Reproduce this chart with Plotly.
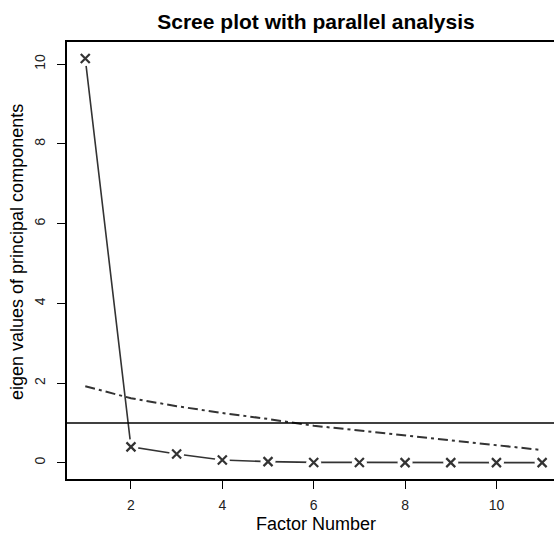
import plotly.graph_objects as go

factors = list(range(1, 12))
eigen_actual = [10.14, 0.40, 0.22, 0.07, 0.03, 0.01, 0.01, 0.005, 0.005, 0.005, 0.005]
eigen_parallel = [1.92, 1.62, 1.42, 1.25, 1.10, 0.93, 0.81, 0.69, 0.56, 0.44, 0.32]
x_ticks = [2, 4, 6, 8, 10]
y_ticks = [0, 2, 4, 6, 8, 10]

LINE = "#333333"
fig = go.Figure()

fig.add_trace(go.Scatter(x=factors, y=eigen_parallel, mode="lines",
                         line=dict(color=LINE, width=2, dash="10px,4px,3px,4px"),
                         showlegend=False, hoverinfo="skip"))
fig.add_trace(go.Scatter(x=factors, y=eigen_actual, mode="lines",
                         line=dict(color=LINE, width=1.6),
                         showlegend=False, hoverinfo="skip"))
fig.add_trace(go.Scatter(x=factors, y=eigen_actual, mode="markers",
                         marker=dict(symbol="circle", size=15, color="white"),
                         showlegend=False, hoverinfo="skip"))
fig.add_trace(go.Scatter(x=factors, y=eigen_actual, mode="markers",
                         marker=dict(symbol="x-thin-open", size=9, color=LINE,
                                     line=dict(color=LINE, width=2.2)),
                         showlegend=False, hoverinfo="skip"))

fig.add_shape(type="line", xref="paper", x0=0, x1=1, yref="y", y0=1, y1=1,
              line=dict(color="black", width=1.6))

FONT = "Liberation Sans, Arial, Helvetica, sans-serif"
fig.update_layout(
    width=554, height=533,
    margin=dict(l=67, r=0, t=42, b=54),
    paper_bgcolor="white", plot_bgcolor="white",
    font=dict(family=FONT, color="black"),
    title=dict(text="<b>Scree plot with parallel analysis</b>",
               x=316 / 554, xanchor="center", y=1 - 22 / 533, yanchor="middle",
               font=dict(size=21, family=FONT, color="black")),
    xaxis=dict(range=[0.6, 11.26], tickvals=x_ticks, ticks="outside", ticklen=8,
               tickwidth=1.3, tickcolor="black", automargin=False, ticklabelstandoff=4,
               showline=True, linecolor="black", linewidth=2, mirror=True,
               showgrid=False, zeroline=False,
               tickfont=dict(size=14, color="#222")),
    yaxis=dict(range=[-0.406, 10.556], tickvals=y_ticks, ticks="outside", ticklen=8,
               tickwidth=1.3, tickcolor="black", tickangle=-90, automargin=False,
               ticklabelstandoff=6,
               showline=True, linecolor="black", linewidth=2,
               showgrid=False, zeroline=False,
               tickfont=dict(size=14, color="#222")),
    annotations=[
        dict(text="Factor Number", xref="paper", yref="paper",
             x=(316 - 67) / 487, y=-(524 - 479) / 437, xanchor="center", yanchor="middle",
             showarrow=False, font=dict(size=18, family=FONT, color="black")),
        dict(text="eigen values of principal components", xref="paper", yref="paper",
             x=-(67 - 17) / 487, y=(479 - 252) / 437, xanchor="center", yanchor="middle",
             textangle=-90, showarrow=False, font=dict(size=18, family=FONT, color="black")),
    ],
)

fig.write_html("out.html", config={"displayModeBar": False},
               post_script="document.body.style.margin='0';document.body.style.overflow='hidden';")
